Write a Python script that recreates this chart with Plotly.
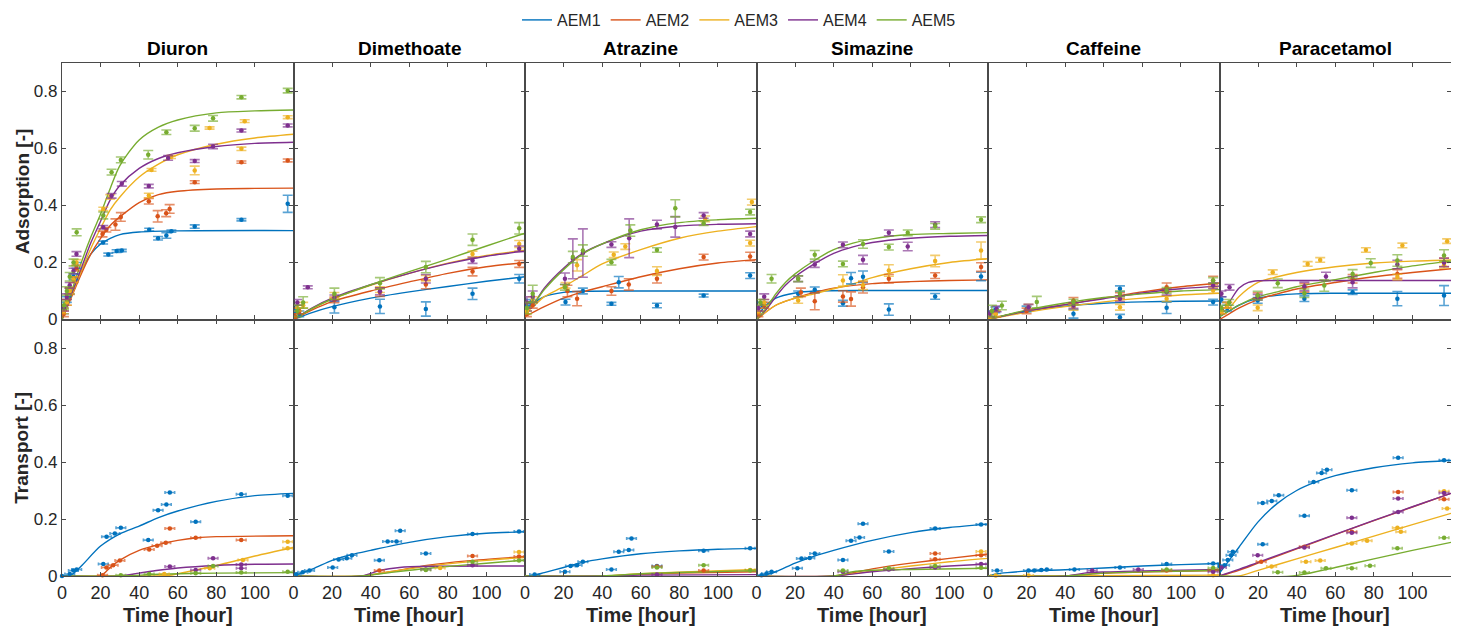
import plotly.graph_objects as go
from plotly.subplots import make_subplots

SERIES = ["AEM1", "AEM2", "AEM3", "AEM4", "AEM5"]
COLORS = ["#0072BD", "#D95319", "#EDB120", "#7E2F8E", "#77AC30"]
COMPOUNDS = ["Diuron", "Dimethoate", "Atrazine", "Simazine", "Caffeine", "Paracetamol"]
ROW_LABELS = ["Adsorption [-]", "Transport [-]"]
X_LABEL = "Time [hour]"
X_TICKS = [0, 20, 40, 60, 80, 100]
Y_TICKS = [0, 0.2, 0.4, 0.6, 0.8]
Y_TICK_TEXT = ["0", "0.2", "0.4", "0.6", "0.8"]
TRANSPORT_TIME_ERR = 2.5  # hours (horizontal error bars, transport)

# ---------------- Adsorption: fitted curves (t, value) ----------------
diuron_ads_fit = {
    "AEM1": [(0, 0), (5, 0.09), (10, 0.17), (15, 0.23), (20, 0.265), (25, 0.285), (30, 0.298), (40, 0.307), (60, 0.311), (120, 0.312)],
    "AEM2": [(0, 0), (5, 0.08), (10, 0.16), (15, 0.23), (20, 0.285), (25, 0.33), (30, 0.36), (40, 0.41), (50, 0.438), (60, 0.45), (80, 0.458), (100, 0.46), (120, 0.461)],
    "AEM3": [(0, 0), (5, 0.085), (10, 0.17), (15, 0.25), (20, 0.32), (25, 0.385), (30, 0.43), (40, 0.5), (50, 0.545), (60, 0.578), (80, 0.615), (100, 0.637), (120, 0.65)],
    "AEM4": [(0, 0), (5, 0.09), (10, 0.18), (15, 0.27), (20, 0.345), (25, 0.42), (30, 0.47), (40, 0.53), (50, 0.565), (60, 0.585), (80, 0.607), (100, 0.618), (120, 0.622)],
    "AEM5": [(0, 0), (5, 0.1), (10, 0.2), (15, 0.29), (20, 0.37), (25, 0.46), (30, 0.54), (40, 0.63), (50, 0.675), (60, 0.7), (80, 0.725), (100, 0.732), (120, 0.735)],
}
dimethoate_ads_fit = {
    "AEM1": [(0, 0), (10, 0.025), (20, 0.045), (40, 0.075), (60, 0.097), (80, 0.116), (100, 0.134), (120, 0.15)],
    "AEM2": [(0, 0), (10, 0.035), (20, 0.063), (40, 0.1), (60, 0.132), (80, 0.162), (100, 0.185), (120, 0.2)],
    "AEM3": [(0, 0), (10, 0.04), (20, 0.072), (40, 0.12), (60, 0.162), (80, 0.198), (100, 0.225), (120, 0.243)],
    "AEM4": [(0, 0), (10, 0.042), (20, 0.075), (40, 0.122), (60, 0.162), (80, 0.196), (100, 0.222), (120, 0.24)],
    "AEM5": [(0, 0), (10, 0.04), (20, 0.072), (40, 0.122), (60, 0.168), (80, 0.212), (100, 0.258), (120, 0.303)],
}
atrazine_ads_fit = {
    "AEM1": [(0, 0.03), (5, 0.06), (10, 0.08), (20, 0.095), (30, 0.099), (60, 0.1), (120, 0.1)],
    "AEM2": [(0, 0.01), (10, 0.045), (20, 0.075), (30, 0.097), (40, 0.115), (60, 0.15), (80, 0.178), (100, 0.198), (120, 0.21)],
    "AEM3": [(0, 0.02), (5, 0.05), (10, 0.08), (20, 0.115), (30, 0.155), (40, 0.195), (60, 0.245), (80, 0.285), (100, 0.31), (120, 0.326)],
    "AEM4": [(0, 0.03), (5, 0.06), (10, 0.11), (20, 0.18), (30, 0.233), (40, 0.265), (60, 0.31), (80, 0.328), (100, 0.334), (120, 0.336)],
    "AEM5": [(0, 0.03), (5, 0.06), (10, 0.105), (20, 0.175), (30, 0.23), (40, 0.265), (60, 0.315), (80, 0.34), (100, 0.35), (120, 0.355)],
}
simazine_ads_fit = {
    "AEM1": [(0, 0.01), (5, 0.05), (10, 0.075), (20, 0.093), (30, 0.1), (60, 0.102), (120, 0.102)],
    "AEM2": [(0, 0), (10, 0.05), (20, 0.075), (30, 0.095), (40, 0.11), (60, 0.126), (80, 0.133), (100, 0.137), (120, 0.139)],
    "AEM3": [(0, 0), (10, 0.05), (20, 0.075), (30, 0.09), (40, 0.108), (50, 0.125), (60, 0.147), (80, 0.178), (100, 0.2), (120, 0.213)],
    "AEM4": [(0, 0), (5, 0.035), (10, 0.08), (15, 0.12), (20, 0.15), (30, 0.195), (40, 0.232), (50, 0.255), (60, 0.27), (80, 0.285), (100, 0.292), (120, 0.295)],
    "AEM5": [(0, 0), (5, 0.04), (10, 0.09), (15, 0.13), (20, 0.16), (30, 0.207), (40, 0.245), (50, 0.268), (60, 0.283), (80, 0.298), (100, 0.302), (120, 0.305)],
}
caffeine_ads_fit = {
    "AEM1": [(0, 0), (20, 0.03), (40, 0.047), (60, 0.057), (80, 0.062), (100, 0.064), (120, 0.065)],
    "AEM2": [(0, 0), (20, 0.03), (40, 0.052), (60, 0.075), (80, 0.097), (100, 0.115), (120, 0.128)],
    "AEM3": [(0, 0), (20, 0.025), (40, 0.045), (60, 0.062), (80, 0.075), (100, 0.086), (120, 0.092)],
    "AEM4": [(0, 0), (20, 0.03), (40, 0.052), (60, 0.073), (80, 0.093), (100, 0.108), (120, 0.117)],
    "AEM5": [(0, 0), (20, 0.033), (40, 0.058), (60, 0.077), (80, 0.09), (100, 0.1), (120, 0.105)],
}
paracetamol_ads_fit = {
    "AEM1": [(0, 0.01), (5, 0.03), (10, 0.05), (20, 0.075), (30, 0.085), (40, 0.09), (60, 0.092), (120, 0.092)],
    "AEM2": [(0, 0), (5, 0.02), (10, 0.04), (20, 0.07), (30, 0.09), (40, 0.107), (60, 0.13), (80, 0.15), (100, 0.165), (120, 0.178)],
    "AEM3": [(0, 0.02), (5, 0.04), (10, 0.08), (20, 0.13), (30, 0.15), (40, 0.165), (60, 0.185), (80, 0.198), (100, 0.205), (120, 0.209)],
    "AEM4": [(0, 0.02), (5, 0.06), (10, 0.11), (15, 0.13), (20, 0.136), (30, 0.137), (120, 0.137)],
    "AEM5": [(0, 0.01), (5, 0.03), (10, 0.05), (20, 0.08), (30, 0.097), (40, 0.115), (60, 0.14), (80, 0.165), (100, 0.188), (120, 0.205)],
}

# ---------------- Adsorption: measured points (t, value, error) ----------------
diuron_ads_pts = {
    "AEM1": [(1, 0.03, 0.01), (2.5, 0.07, 0.01), (4, 0.1, 0.01), (6, 0.15, 0.01), (7.5, 0.19, 0.01), (21.3, 0.27, 0.005), (24, 0.228, 0.005),
             (28.3, 0.24, 0.005), (31, 0.242, 0.004), (45.2, 0.315, 0.005), (49.8, 0.285, 0.006), (54.1, 0.295, 0.01), (56.7, 0.31, 0.004),
             (68.8, 0.326, 0.006), (93, 0.35, 0.004), (117, 0.406, 0.03)],
    "AEM2": [(1, 0.02, 0.01), (2.5, 0.06, 0.01), (4, 0.1, 0.012), (6, 0.14, 0.01), (7.5, 0.18, 0.01), (21, 0.3, 0.01), (23, 0.315, 0.008),
             (27.7, 0.333, 0.02), (30.5, 0.36, 0.015), (45, 0.415, 0.01), (49.6, 0.362, 0.02), (54, 0.373, 0.012), (55.8, 0.388, 0.015),
             (68.8, 0.482, 0.005), (93, 0.552, 0.004), (117, 0.558, 0.005)],
    "AEM3": [(1, 0.03, 0.01), (2.5, 0.06, 0.01), (4, 0.1, 0.01), (6, 0.14, 0.01), (7.5, 0.2, 0.01), (21.4, 0.388, 0.006), (25, 0.43, 0.008),
             (45, 0.435, 0.008), (46.4, 0.525, 0.005), (56.5, 0.57, 0.005), (68.8, 0.523, 0.015), (76.5, 0.672, 0.004), (93, 0.599, 0.006),
             (94.7, 0.696, 0.005), (117, 0.71, 0.005)],
    "AEM4": [(1, 0.04, 0.01), (2.5, 0.08, 0.01), (4, 0.12, 0.01), (6, 0.17, 0.01), (7.5, 0.23, 0.008), (21.4, 0.324, 0.006), (25.7, 0.434, 0.008),
             (31, 0.476, 0.008), (45, 0.468, 0.006), (55, 0.567, 0.008), (68.8, 0.556, 0.005), (78.3, 0.607, 0.008), (93, 0.663, 0.005),
             (117, 0.681, 0.005)],
    "AEM5": [(1, 0.05, 0.015), (2.5, 0.1, 0.015), (4, 0.15, 0.015), (6, 0.2, 0.012), (7.6, 0.306, 0.012), (21.4, 0.365, 0.012), (25.7, 0.517, 0.01),
             (30.5, 0.56, 0.01), (44.7, 0.578, 0.015), (54.1, 0.657, 0.008), (68.8, 0.671, 0.01), (78.3, 0.706, 0.01), (93, 0.78, 0.006),
             (117, 0.803, 0.008)],
}
dimethoate_ads_pts = {
    "AEM1": [(1, 0.03, 0.02), (3, 0.02, 0.01), (21.2, 0.043, 0.02), (44.8, 0.046, 0.025), (68.6, 0.037, 0.025), (92.8, 0.09, 0.02), (117, 0.143, 0.015)],
    "AEM2": [(1, 0.01, 0.01), (3, 0.03, 0.01), (21.2, 0.069, 0.01), (44.8, 0.096, 0.015), (68.6, 0.123, 0.015), (92.8, 0.168, 0.015), (117, 0.195, 0.012)],
    "AEM3": [(2, 0.04, 0.01), (5, 0.05, 0.01), (21.2, 0.085, 0.01), (44.8, 0.105, 0.01), (68.6, 0.145, 0.01), (92.8, 0.23, 0.01), (117, 0.265, 0.012)],
    "AEM4": [(2, 0.06, 0.01), (7.4, 0.113, 0.005), (21.2, 0.076, 0.01), (44.8, 0.099, 0.012), (68.6, 0.143, 0.015), (92.8, 0.207, 0.01), (117, 0.248, 0.01)],
    "AEM5": [(2, 0.03, 0.02), (5, 0.06, 0.02), (21.2, 0.09, 0.02), (44.8, 0.127, 0.02), (68.6, 0.184, 0.02), (92.8, 0.28, 0.02), (117, 0.32, 0.02)],
}
atrazine_ads_pts = {
    "AEM1": [(1, 0.04, 0.01), (3, 0.06, 0.01), (21, 0.061, 0.01), (30, 0.1, 0.01), (44.8, 0.055, 0.005), (48.6, 0.131, 0.02),
             (68.4, 0.049, 0.008), (92.6, 0.084, 0.005), (116.7, 0.154, 0.01)],
    "AEM2": [(1, 0.02, 0.01), (4, 0.05, 0.01), (22, 0.1, 0.02), (27, 0.073, 0.025), (44.8, 0.1, 0.015), (53.8, 0.123, 0.02),
             (68.4, 0.143, 0.015), (92.6, 0.219, 0.01), (116.7, 0.221, 0.015)],
    "AEM3": [(1, 0.03, 0.01), (4, 0.07, 0.01), (21, 0.12, 0.01), (27, 0.19, 0.02), (46, 0.227, 0.01), (52, 0.256, 0.01),
             (68.4, 0.17, 0.015), (93.4, 0.353, 0.01), (116.7, 0.268, 0.01), (117.6, 0.412, 0.01)],
    "AEM4": [(1, 0.06, 0.02), (4, 0.08, 0.02), (20.7, 0.143, 0.02), (24.8, 0.213, 0.07), (30, 0.233, 0.085), (44.8, 0.263, 0.01),
             (54, 0.285, 0.068), (68.4, 0.333, 0.015), (77.9, 0.325, 0.036), (92.6, 0.365, 0.01), (116.7, 0.3, 0.01)],
    "AEM5": [(1, 0.04, 0.02), (4, 0.09, 0.03), (20.7, 0.113, 0.01), (24.8, 0.219, 0.02), (30, 0.242, 0.02), (44.8, 0.201, 0.01),
             (54.6, 0.312, 0.02), (68.4, 0.244, 0.008), (77.9, 0.39, 0.03), (92.6, 0.338, 0.008), (116.7, 0.377, 0.01)],
}
simazine_ads_pts = {
    "AEM1": [(1, 0.03, 0.01), (3, 0.05, 0.01), (21.6, 0.09, 0.01), (30.2, 0.104, 0.01), (44.8, 0.057, 0.01), (49, 0.145, 0.02),
             (55.2, 0.15, 0.02), (68.6, 0.035, 0.02), (92.6, 0.081, 0.01), (116.4, 0.151, 0.015)],
    "AEM2": [(1, 0.02, 0.01), (4, 0.05, 0.01), (23, 0.095, 0.015), (30.2, 0.064, 0.03), (44.8, 0.081, 0.02), (49, 0.072, 0.025),
             (55.2, 0.113, 0.02), (68.6, 0.143, 0.015), (92.6, 0.154, 0.01), (116.4, 0.184, 0.015)],
    "AEM3": [(1, 0.03, 0.01), (4, 0.06, 0.01), (21.6, 0.067, 0.01), (44.8, 0.137, 0.02), (55.2, 0.12, 0.015), (68.6, 0.172, 0.02),
             (92.6, 0.205, 0.02), (116.4, 0.242, 0.03)],
    "AEM4": [(1, 0.04, 0.01), (4, 0.08, 0.01), (21.6, 0.143, 0.01), (30.2, 0.193, 0.01), (44.8, 0.262, 0.01), (55.2, 0.21, 0.015),
             (68.6, 0.304, 0.01), (78.4, 0.256, 0.015), (92.6, 0.333, 0.01)],
    "AEM5": [(2, 0.06, 0.01), (7.8, 0.143, 0.015), (21.6, 0.143, 0.01), (30.2, 0.227, 0.015), (44.8, 0.195, 0.01), (55.2, 0.265, 0.015),
             (68.6, 0.254, 0.01), (78.4, 0.304, 0.01), (92.6, 0.327, 0.01), (116.4, 0.35, 0.01)],
}
caffeine_ads_pts = {
    "AEM1": [(1, 0.02, 0.01), (3.8, 0.034, 0.01), (20, 0.037, 0.01), (44.3, 0.02, 0.015), (68.4, 0.108, 0.01), (68.4, 0.008, 0.01),
             (92.6, 0.041, 0.02), (116.7, 0.061, 0.01)],
    "AEM2": [(1, 0.01, 0.01), (4, 0.02, 0.01), (20, 0.03, 0.01), (44.3, 0.067, 0.01), (68.4, 0.084, 0.01), (92.6, 0.113, 0.015), (116.7, 0.137, 0.015)],
    "AEM3": [(1, 0.01, 0.01), (4, 0.02, 0.01), (21, 0.043, 0.01), (44.3, 0.043, 0.01), (68.4, 0.043, 0.01), (92.6, 0.073, 0.01), (116.7, 0.102, 0.01)],
    "AEM4": [(1, 0.02, 0.01), (4.5, 0.037, 0.01), (21, 0.043, 0.01), (44.3, 0.049, 0.01), (68.4, 0.073, 0.01), (92.6, 0.096, 0.01), (116.7, 0.119, 0.01)],
    "AEM5": [(2, 0.03, 0.02), (7.2, 0.049, 0.015), (25.3, 0.061, 0.02), (44.3, 0.061, 0.01), (68.4, 0.09, 0.01), (92.6, 0.102, 0.01), (116.7, 0.137, 0.01)],
}
paracetamol_ads_pts = {
    "AEM1": [(1, 0.07, 0.01), (4, 0.04, 0.01), (19.8, 0.067, 0.01), (44, 0.073, 0.01), (69, 0.096, 0.008), (92.2, 0.073, 0.025), (116.4, 0.084, 0.035)],
    "AEM2": [(1, 0.03, 0.01), (4, 0.05, 0.01), (19.8, 0.084, 0.01), (44, 0.111, 0.015), (69, 0.143, 0.015), (92.2, 0.16, 0.015), (116.4, 0.201, 0.015)],
    "AEM3": [(1, 0.03, 0.01), (4, 0.05, 0.01), (19.8, 0.041, 0.01), (27.6, 0.166, 0.008), (45.7, 0.195, 0.008), (52.2, 0.209, 0.008),
             (75.9, 0.244, 0.008), (94.8, 0.26, 0.008), (118, 0.275, 0.008), (92.2, 0.149, 0.01), (116.4, 0.19, 0.01)],
    "AEM4": [(1, 0.09, 0.01), (5.2, 0.113, 0.01), (19.8, 0.078, 0.01), (44, 0.116, 0.015), (55.2, 0.151, 0.015), (69, 0.131, 0.02),
             (92.2, 0.193, 0.015), (116.4, 0.2, 0.015)],
    "AEM5": [(1, 0.04, 0.01), (5, 0.06, 0.01), (19.8, 0.084, 0.015), (30.2, 0.127, 0.015), (44, 0.092, 0.015), (54.3, 0.119, 0.02),
             (69, 0.16, 0.015), (78.4, 0.198, 0.015), (92.2, 0.207, 0.02), (116.4, 0.225, 0.02)],
}

# ---------------- Transport: fitted curves (t, value) ----------------
diuron_tr_fit = {
    "AEM1": [(0, 0), (5, 0.005), (10, 0.035), (20, 0.105), (30, 0.148), (40, 0.175), (50, 0.205), (60, 0.228), (80, 0.262), (100, 0.282), (120, 0.29)],
    "AEM2": [(0, 0), (20, 0), (22, 0.01), (25, 0.03), (30, 0.056), (40, 0.09), (50, 0.11), (60, 0.125), (70, 0.134), (80, 0.138), (120, 0.141)],
    "AEM3": [(0, 0), (40, 0), (55, 0.002), (60, 0.008), (80, 0.037), (100, 0.07), (120, 0.1)],
    "AEM4": [(0, 0), (30, 0), (40, 0.01), (50, 0.02), (60, 0.028), (80, 0.037), (100, 0.041), (120, 0.042)],
    "AEM5": [(0, 0), (30, 0), (50, 0.006), (80, 0.01), (120, 0.012)],
}
dimethoate_tr_fit = {
    "AEM1": [(0, 0), (10, 0.025), (20, 0.055), (30, 0.075), (40, 0.09), (60, 0.118), (80, 0.138), (100, 0.15), (120, 0.155)],
    "AEM2": [(0, 0), (35, 0), (50, 0.015), (70, 0.038), (90, 0.053), (120, 0.068)],
    "AEM3": [(0, 0), (35, 0), (50, 0.015), (70, 0.035), (100, 0.055), (120, 0.065)],
    "AEM4": [(0, 0), (35, 0), (45, 0.02), (55, 0.03), (70, 0.034), (120, 0.035)],
    "AEM5": [(0, 0), (35, 0), (50, 0.012), (70, 0.027), (100, 0.045), (120, 0.056)],
}
atrazine_tr_fit = {
    "AEM1": [(0, 0), (5, 0.003), (10, 0.012), (20, 0.03), (30, 0.048), (40, 0.06), (60, 0.078), (80, 0.088), (100, 0.094), (120, 0.097)],
    "AEM2": [(0, 0), (40, 0), (60, 0.006), (80, 0.01), (120, 0.015)],
    "AEM3": [(0, 0), (40, 0), (60, 0.008), (90, 0.016), (120, 0.023)],
    "AEM4": [(0, 0), (40, 0), (60, 0.003), (120, 0.005)],
    "AEM5": [(0, 0), (40, 0), (60, 0.008), (90, 0.014), (120, 0.019)],
}
simazine_tr_fit = {
    "AEM1": [(0, 0), (5, 0.005), (10, 0.015), (20, 0.045), (30, 0.07), (40, 0.09), (60, 0.125), (80, 0.152), (100, 0.17), (120, 0.182)],
    "AEM2": [(0, 0), (40, 0), (60, 0.025), (80, 0.045), (100, 0.062), (120, 0.077)],
    "AEM3": [(0, 0), (40, 0), (60, 0.018), (80, 0.035), (100, 0.05), (120, 0.062)],
    "AEM4": [(0, 0), (40, 0), (60, 0.015), (80, 0.026), (100, 0.035), (120, 0.042)],
    "AEM5": [(0, 0), (40, 0), (50, 0.015), (60, 0.02), (80, 0.023), (120, 0.027)],
}
caffeine_tr_fit = {
    "AEM1": [(0, 0), (5, 0.008), (10, 0.012), (20, 0.017), (40, 0.022), (60, 0.028), (80, 0.035), (100, 0.04), (120, 0.044)],
    "AEM2": [(0, 0), (40, 0), (60, 0.01), (90, 0.016), (120, 0.019)],
    "AEM3": [(0, 0), (120, 0.003)],
    "AEM4": [(0, 0), (40, 0), (50, 0.01), (60, 0.014), (80, 0.018), (120, 0.023)],
    "AEM5": [(0, 0), (40, 0), (60, 0.01), (90, 0.016), (120, 0.02)],
}
paracetamol_tr_fit = {
    "AEM1": [(0, 0.01), (5, 0.055), (10, 0.1), (20, 0.19), (30, 0.255), (40, 0.3), (50, 0.33), (60, 0.352), (80, 0.38), (100, 0.397), (120, 0.405)],
    "AEM2": [(0, 0), (10, 0.02), (20, 0.045), (40, 0.095), (60, 0.145), (80, 0.194), (100, 0.242), (120, 0.29)],
    "AEM3": [(0, 0), (10, 0), (20, 0.02), (40, 0.06), (60, 0.1), (80, 0.14), (100, 0.18), (120, 0.22)],
    "AEM4": [(0, 0), (10, 0.023), (20, 0.048), (40, 0.097), (60, 0.146), (80, 0.195), (100, 0.243), (120, 0.29)],
    "AEM5": [(0, 0), (38, 0), (60, 0.03), (80, 0.06), (100, 0.09), (120, 0.118)],
}

# ---------------- Transport: measured points (t, value) ----------------
diuron_tr_pts = {
    "AEM1": [(0, 0), (4, 0.007), (5.9, 0.019), (7.6, 0.023), (21.4, 0.042), (23.1, 0.138), (27.4, 0.149), (30.5, 0.169), (44.7, 0.126),
             (49.8, 0.231), (54.1, 0.251), (55.9, 0.293), (69.3, 0.19), (92.9, 0.287), (117, 0.282)],
    "AEM2": [(21, 0.003), (23, 0.03), (26.5, 0.038), (30, 0.054), (45.2, 0.093), (49.3, 0.106), (53.8, 0.117), (55.9, 0.167), (69.3, 0.134), (92.9, 0.126)],
    "AEM3": [(53, 0.007), (76.6, 0.027), (93.8, 0.056), (117, 0.12), (117, 0.097)],
    "AEM4": [(55.9, 0.033), (69.3, 0.021), (78.3, 0.062), (92.9, 0.027), (92.9, 0.04)],
    "AEM5": [(30.5, 0.003), (45.2, 0.007), (69.3, 0.01), (78.3, 0.035), (92.9, 0.012), (117, 0.015)],
}
dimethoate_tr_pts = {
    "AEM1": [(1.4, 0.006), (4.8, 0.013), (8.3, 0.019), (20.3, 0.03), (23.4, 0.058), (27.6, 0.062), (30.3, 0.073), (44.5, 0.055),
             (48.8, 0.121), (53.4, 0.121), (55.3, 0.159), (68.6, 0.079), (92.8, 0.147), (116.9, 0.156)],
    "AEM2": [(44.5, 0.019), (92.8, 0.07), (116.9, 0.068)],
    "AEM3": [(76, 0.028), (116.9, 0.084)],
    "AEM4": [(68.6, 0.023), (92.8, 0.038)],
    "AEM5": [(68.6, 0.021), (92.8, 0.05), (116.9, 0.054)],
}
atrazine_tr_pts = {
    "AEM1": [(5, 0.005), (20.7, 0.015), (23.6, 0.035), (27, 0.038), (30, 0.05), (44.8, 0.023), (48.6, 0.085), (53.8, 0.091),
             (55.2, 0.132), (68.4, 0.035), (92.6, 0.089), (116.7, 0.097)],
    "AEM2": [(68.4, 0.033), (92.6, 0.019)],
    "AEM3": [(116.7, 0.021)],
    "AEM4": [(68.4, 0.005)],
    "AEM5": [(68.4, 0.03), (92.6, 0.038), (116.7, 0.019)],
}
simazine_tr_pts = {
    "AEM1": [(2.6, 0.003), (5.2, 0.009), (7.8, 0.015), (21.2, 0.027), (23.3, 0.061), (27.6, 0.063), (30.2, 0.079), (44.8, 0.056),
             (49, 0.124), (53.4, 0.135), (55.2, 0.183), (68.6, 0.086), (92.6, 0.167), (116.4, 0.181)],
    "AEM2": [(92.6, 0.079), (92.6, 0.059), (116.4, 0.073)],
    "AEM3": [(116.4, 0.086)],
    "AEM4": [(44.8, 0.015), (68.6, 0.023), (92.6, 0.03), (116.4, 0.042)],
    "AEM5": [(44.8, 0.019), (68.6, 0.027), (92.6, 0.035), (116.4, 0.029)],
}
caffeine_tr_pts = {
    "AEM1": [(4.7, 0.019), (21, 0.019), (24, 0.019), (27.6, 0.021), (30.5, 0.023), (44.8, 0.023), (68.4, 0.03), (92.6, 0.042), (116.7, 0.044)],
    "AEM2": [(92.6, 0.019), (116.7, 0.021)],
    "AEM3": [(4, 0.002), (21, 0.002), (116.7, 0.003)],
    "AEM4": [(54, 0.019), (77.9, 0.023), (116.7, 0.015)],
    "AEM5": [(92.6, 0.023), (116.7, 0.028)],
}
paracetamol_tr_pts = {
    "AEM1": [(0, 0.035), (2.6, 0.038), (4.3, 0.056), (6, 0.073), (6.9, 0.085), (22.4, 0.111), (22.4, 0.256), (27.1, 0.263), (30.7, 0.283),
             (44, 0.211), (48.8, 0.33), (52.9, 0.361), (55.7, 0.373), (68.6, 0.301), (92.6, 0.415), (116.4, 0.406)],
    "AEM2": [(21.6, 0.05), (44, 0.103), (68.6, 0.155), (92.6, 0.295), (116.4, 0.269)],
    "AEM3": [(27, 0.033), (44.8, 0.05), (52.2, 0.054), (68.6, 0.114), (76.5, 0.124), (92.2, 0.169), (94, 0.155), (118, 0.237), (116.4, 0.297)],
    "AEM4": [(1, 0.03), (19.8, 0.073), (44, 0.1), (68.6, 0.204), (68.6, 0.152), (92.6, 0.272), (92.6, 0.225), (116.4, 0.291)],
    "AEM5": [(30.2, 0.013), (44, 0.012), (55.2, 0.027), (68.6, 0.027), (78, 0.036), (92.2, 0.097), (116.4, 0.134)],
}

ADS_FIT = [diuron_ads_fit, dimethoate_ads_fit, atrazine_ads_fit, simazine_ads_fit, caffeine_ads_fit, paracetamol_ads_fit]
ADS_PTS = [diuron_ads_pts, dimethoate_ads_pts, atrazine_ads_pts, simazine_ads_pts, caffeine_ads_pts, paracetamol_ads_pts]
TR_FIT = [diuron_tr_fit, dimethoate_tr_fit, atrazine_tr_fit, simazine_tr_fit, caffeine_tr_fit, paracetamol_tr_fit]
TR_PTS = [diuron_tr_pts, dimethoate_tr_pts, atrazine_tr_pts, simazine_tr_pts, caffeine_tr_pts, paracetamol_tr_pts]

FONT = "Liberation Sans, Arial, Helvetica, sans-serif"
AXIS_COLOR = "#4a4a4a"
TEXT_COLOR = "#262626"

# The page body has an 8 px default margin; the figure is sized to fit the
# 1459x630 window with that offset.
FIG_W, FIG_H = 1451, 622


def rgba(hx, a):
    hx = hx.lstrip("#")
    return "rgba(%d,%d,%d,%.2f)" % (int(hx[0:2], 16), int(hx[2:4], 16), int(hx[4:6], 16), a)


fig = make_subplots(rows=2, cols=6, shared_xaxes=True, shared_yaxes=True,
                    horizontal_spacing=0, vertical_spacing=0)

for c in range(6):
    for r in (1, 2):
        fits = ADS_FIT[c] if r == 1 else TR_FIT[c]
        pts = ADS_PTS[c] if r == 1 else TR_PTS[c]
        for s, name in enumerate(SERIES):
            curve = fits[name]
            fig.add_trace(go.Scatter(
                x=[p[0] for p in curve], y=[p[1] for p in curve], mode="lines",
                line=dict(color=COLORS[s], width=1.4, shape="spline", smoothing=0.8),
                name=name, legendgroup=name, showlegend=(c == 0 and r == 1),
                hoverinfo="skip"), row=r, col=c + 1)
        for s, name in enumerate(SERIES):
            p = pts[name]
            xs = [q[0] for q in p]
            ys = [q[1] for q in p]
            kw = {}
            if r == 1:
                kw["error_y"] = dict(type="data", array=[q[2] for q in p], color=rgba(COLORS[s], 0.65),
                                     thickness=1.6, width=5)
            else:
                kw["error_x"] = dict(type="data", array=[TRANSPORT_TIME_ERR] * len(p), color=rgba(COLORS[s], 0.65),
                                     thickness=1.6, width=1.5)
            fig.add_trace(go.Scatter(
                x=xs, y=ys, mode="markers",
                marker=dict(color=COLORS[s], size=4.5),
                name=name, legendgroup=name, showlegend=False, cliponaxis=False,
                **kw), row=r, col=c + 1)

fig.update_xaxes(range=[0, 120], tickvals=X_TICKS, ticks="inside", ticklen=4, tickcolor=AXIS_COLOR,
                 showline=True, linecolor=AXIS_COLOR, linewidth=1.3, mirror="ticks",
                 showgrid=False, zeroline=False,
                 tickfont=dict(family=FONT, size=18, color=TEXT_COLOR))
fig.update_yaxes(range=[0, 0.9], tickvals=Y_TICKS, ticktext=Y_TICK_TEXT, ticks="inside", ticklen=4,
                 tickcolor=AXIS_COLOR, showline=True, linecolor=AXIS_COLOR, linewidth=1.3, mirror="ticks",
                 showgrid=False, zeroline=False,
                 tickfont=dict(family=FONT, size=17, color=TEXT_COLOR))

annotations = []
for c, comp in enumerate(COMPOUNDS):
    xc = (c + 0.5) / 6
    annotations.append(dict(text="<b>%s</b>" % comp, x=xc, y=1, xref="paper", yref="paper",
                            xanchor="center", yanchor="bottom", yshift=2, showarrow=False,
                            font=dict(family=FONT, size=19, color="#000000")))
    annotations.append(dict(text="<b>%s</b>" % X_LABEL, x=xc, y=0, xref="paper", yref="paper",
                            xanchor="center", yanchor="top", yshift=-26, showarrow=False,
                            font=dict(family=FONT, size=20, color=TEXT_COLOR)))
for r, lab in enumerate(ROW_LABELS):
    annotations.append(dict(text="<b>%s</b>" % lab, x=0, y=0.75 if r == 0 else 0.25, xref="paper", yref="paper",
                            xanchor="center", yanchor="middle", xshift=-40, textangle=-90, showarrow=False,
                            font=dict(family=FONT, size=19, color=TEXT_COLOR)))

fig.update_layout(
    width=FIG_W, height=FIG_H,
    margin=dict(l=54, r=8, t=55, b=54),
    paper_bgcolor="white", plot_bgcolor="white",
    font=dict(family=FONT, color=TEXT_COLOR),
    annotations=annotations,
    legend=dict(orientation="h", x=731 / FIG_W, xanchor="center", xref="container",
                y=1 - 12 / FIG_H, yanchor="middle", yref="container",
                font=dict(family=FONT, size=16, color=TEXT_COLOR),
                itemwidth=30, tracegroupgap=0, bgcolor="rgba(0,0,0,0)"),
)

fig.write_html("out.html")
